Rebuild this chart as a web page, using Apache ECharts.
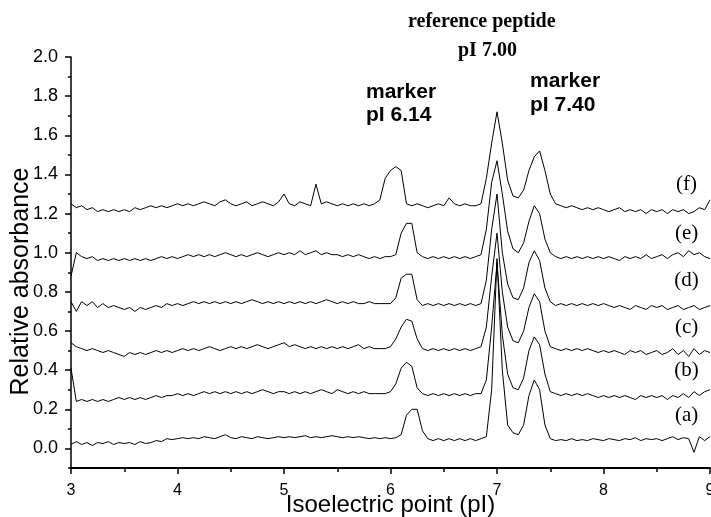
<!DOCTYPE html>
<html>
<head>
<meta charset="utf-8">
<title>IEF traces</title>
<script src="https://cdn.jsdelivr.net/npm/echarts@6.0.0/dist/echarts.min.js"></script>
<style>
  html, body { margin: 0; padding: 0; background: #fff; }
  #main { width: 711px; height: 517px; }
</style>
</head>
<body>
<div id="main"></div>
<script type="text/javascript">
// sample positions (pI)
var pI = [
  3.00, 3.05, 3.10, 3.15, 3.20, 3.25, 3.30, 3.35, 3.40, 3.45,
  3.50, 3.55, 3.60, 3.65, 3.70, 3.75, 3.80, 3.85, 3.90, 3.95,
  4.00, 4.05, 4.10, 4.15, 4.20, 4.25, 4.30, 4.35, 4.40, 4.45,
  4.50, 4.55, 4.60, 4.65, 4.70, 4.75, 4.80, 4.85, 4.90, 4.95,
  5.00, 5.05, 5.10, 5.15, 5.20, 5.25, 5.30, 5.35, 5.40, 5.45,
  5.50, 5.55, 5.60, 5.65, 5.70, 5.75, 5.80, 5.85, 5.90, 5.95,
  6.00, 6.05, 6.10, 6.15, 6.20, 6.25, 6.30, 6.35, 6.40, 6.45,
  6.50, 6.55, 6.60, 6.65, 6.70, 6.75, 6.80, 6.85, 6.90, 6.95,
  7.00, 7.05, 7.10, 7.15, 7.20, 7.25, 7.30, 7.35, 7.40, 7.45,
  7.50, 7.55, 7.60, 7.65, 7.70, 7.75, 7.80, 7.85, 7.90, 7.95,
  8.00, 8.05, 8.10, 8.15, 8.20, 8.25, 8.30, 8.35, 8.40, 8.45,
  8.50, 8.55, 8.60, 8.65, 8.70, 8.75, 8.80, 8.85, 8.90, 8.95, 9.00
];

// relative absorbance of each run (already offset in the figure)
var traceA = [
  0.02, 0.035, 0.02, 0.03, 0.015, 0.03, 0.025, 0.035, 0.02, 0.03,
  0.025, 0.03, 0.02, 0.035, 0.025, 0.03, 0.04, 0.035, 0.05, 0.045,
  0.05, 0.055, 0.05, 0.055, 0.05, 0.06, 0.055, 0.05, 0.06, 0.07,
  0.055, 0.05, 0.06, 0.055, 0.05, 0.06, 0.055, 0.05, 0.055, 0.06,
  0.055, 0.06, 0.055, 0.06, 0.065, 0.055, 0.06, 0.055, 0.06, 0.065,
  0.06, 0.055, 0.06, 0.055, 0.06, 0.055, 0.05, 0.055, 0.05, 0.055,
  0.05, 0.055, 0.07, 0.17, 0.20, 0.20, 0.09, 0.05, 0.04, 0.05,
  0.04, 0.05, 0.04, 0.05, 0.04, 0.05, 0.04, 0.05, 0.06, 0.30,
  0.97, 0.40, 0.12, 0.08, 0.07, 0.12, 0.27, 0.35, 0.30, 0.12,
  0.05, 0.04, 0.045, 0.04, 0.05, 0.04, 0.045, 0.04, 0.05, 0.045,
  0.04, 0.05, 0.045, 0.04, 0.05, 0.045, 0.055, 0.04, 0.05, 0.045,
  0.05, 0.04, 0.05, 0.06, 0.045, 0.055, 0.05, -0.02, 0.06, 0.04, 0.06
];
var traceB = [
  0.41, 0.24, 0.25, 0.24, 0.25, 0.24, 0.25, 0.24, 0.25, 0.26,
  0.25, 0.26, 0.25, 0.26, 0.25, 0.26, 0.27, 0.26, 0.27, 0.27,
  0.28, 0.27, 0.28, 0.27, 0.28, 0.29, 0.28, 0.29, 0.28, 0.29,
  0.28, 0.29, 0.28, 0.29, 0.28, 0.29, 0.30, 0.29, 0.28, 0.29,
  0.29, 0.28, 0.29, 0.28, 0.29, 0.28, 0.29, 0.30, 0.29, 0.28,
  0.30, 0.29, 0.28, 0.29, 0.28, 0.29, 0.28, 0.28, 0.28, 0.28,
  0.29, 0.33, 0.41, 0.44, 0.42, 0.31, 0.28, 0.27, 0.28, 0.27,
  0.28, 0.27, 0.28, 0.27, 0.28, 0.27, 0.28, 0.28, 0.35, 0.62,
  0.95, 0.58, 0.38, 0.31, 0.30, 0.36, 0.50, 0.57, 0.53, 0.38,
  0.29, 0.28, 0.27, 0.28, 0.27, 0.28, 0.27, 0.28, 0.27, 0.26,
  0.27, 0.26, 0.27, 0.26, 0.27, 0.26, 0.25, 0.27, 0.26, 0.27,
  0.26, 0.27, 0.25, 0.27, 0.26, 0.28, 0.26, 0.29, 0.27, 0.29, 0.30
];
var traceC = [
  0.54, 0.52, 0.51, 0.50, 0.51, 0.50, 0.49, 0.50, 0.49, 0.48,
  0.47, 0.49, 0.48, 0.49, 0.48, 0.49, 0.50, 0.49, 0.50, 0.49,
  0.50, 0.51, 0.50, 0.51, 0.50, 0.51, 0.52, 0.51, 0.50, 0.51,
  0.52, 0.51, 0.52, 0.51, 0.52, 0.53, 0.52, 0.51, 0.52, 0.53,
  0.54, 0.52, 0.53, 0.52, 0.51, 0.52, 0.51, 0.52, 0.51, 0.52,
  0.51, 0.52, 0.51, 0.52, 0.53, 0.51, 0.52, 0.51, 0.51, 0.51,
  0.52, 0.56, 0.62, 0.66, 0.65, 0.56, 0.51, 0.50, 0.51, 0.50,
  0.51, 0.50, 0.51, 0.50, 0.51, 0.50, 0.51, 0.52, 0.62, 0.88,
  1.10, 0.80, 0.62, 0.55, 0.54, 0.60, 0.72, 0.79, 0.75, 0.60,
  0.52, 0.51, 0.50, 0.51, 0.50, 0.51, 0.50, 0.51, 0.50, 0.49,
  0.50, 0.49, 0.50, 0.49, 0.48, 0.50, 0.49, 0.50, 0.48, 0.49,
  0.50, 0.48, 0.49, 0.51, 0.48, 0.50, 0.47, 0.51, 0.48, 0.50, 0.49
];
var traceD = [
  0.75, 0.70, 0.75, 0.73, 0.75, 0.72, 0.74, 0.72, 0.73, 0.72,
  0.71, 0.72, 0.70, 0.72, 0.71, 0.72, 0.73, 0.72, 0.74, 0.73,
  0.74, 0.73, 0.74, 0.75, 0.74, 0.75, 0.74, 0.75, 0.74, 0.75,
  0.74, 0.75, 0.74, 0.75, 0.76, 0.75, 0.74, 0.75, 0.74, 0.75,
  0.74, 0.75, 0.74, 0.75, 0.74, 0.75, 0.74, 0.75, 0.76, 0.75,
  0.74, 0.75, 0.74, 0.75, 0.74, 0.74, 0.75, 0.74, 0.74, 0.74,
  0.74, 0.77, 0.87, 0.89, 0.89, 0.76, 0.73, 0.74, 0.73, 0.74,
  0.73, 0.74, 0.73, 0.74, 0.73, 0.74, 0.73, 0.74, 0.86, 1.12,
  1.30, 1.00, 0.84, 0.77, 0.76, 0.82, 0.95, 1.01, 0.96, 0.82,
  0.75, 0.73, 0.74, 0.73, 0.74, 0.73, 0.74, 0.73, 0.74, 0.73,
  0.74, 0.73, 0.72, 0.73, 0.72, 0.71, 0.73, 0.72, 0.71, 0.73,
  0.72, 0.73, 0.71, 0.72, 0.73, 0.71, 0.72, 0.73, 0.71, 0.72, 0.73
];
var traceE = [
  0.88, 1.00, 0.98, 0.97, 0.98, 0.96, 0.97, 0.96, 0.97, 0.96,
  0.97, 0.96, 0.97, 0.96, 0.97, 0.96, 0.97, 0.98, 0.97, 0.98,
  0.97, 0.98, 0.99, 0.98, 0.99, 0.98, 0.99, 0.98, 0.99, 1.00,
  0.99, 0.98, 0.99, 0.98, 0.99, 1.00, 0.99, 0.98, 0.99, 1.00,
  0.99, 1.00, 0.99, 1.01, 0.99, 1.00, 1.01, 0.99, 1.00, 0.99,
  0.99, 0.98, 0.99, 0.98, 0.99, 0.98, 0.97, 0.98, 0.97, 0.98,
  0.98, 0.99, 1.10, 1.15, 1.15, 1.00, 0.98, 0.97, 0.98, 0.97,
  0.98, 0.97, 0.98, 0.97, 0.98, 0.97, 0.98, 0.99, 1.12, 1.36,
  1.47, 1.30, 1.11, 1.02, 1.00, 1.05, 1.16, 1.24, 1.20, 1.07,
  1.00, 0.98, 0.97, 0.98, 0.97, 0.98, 0.97, 0.98, 0.97, 0.98,
  0.97, 0.98, 0.97, 0.96, 0.98, 0.97, 0.98, 0.97, 0.99, 0.97,
  0.98, 0.99, 0.97, 0.99, 1.00, 0.98, 1.01, 0.99, 1.00, 0.98, 0.97
];
var traceF = [
  1.25, 1.23, 1.24, 1.22, 1.23, 1.21, 1.22, 1.21, 1.22, 1.21,
  1.22, 1.21, 1.23, 1.22, 1.23, 1.24, 1.23, 1.24, 1.23, 1.24,
  1.25, 1.24, 1.25, 1.24, 1.25, 1.26, 1.25, 1.24, 1.26, 1.27,
  1.25, 1.24, 1.25, 1.26, 1.24, 1.25, 1.26, 1.25, 1.24, 1.26,
  1.30, 1.25, 1.24, 1.26, 1.25, 1.24, 1.35, 1.25, 1.26, 1.25,
  1.24, 1.25, 1.24, 1.25, 1.24, 1.25, 1.24, 1.25, 1.27, 1.38,
  1.42, 1.44, 1.42, 1.25, 1.24, 1.25, 1.24, 1.23, 1.24, 1.25,
  1.24, 1.28, 1.25, 1.24, 1.25, 1.24, 1.24, 1.25, 1.38, 1.56,
  1.72, 1.56, 1.37, 1.29, 1.28, 1.32, 1.42, 1.49, 1.52, 1.42,
  1.30, 1.25, 1.24, 1.23, 1.24, 1.23, 1.22, 1.23, 1.22, 1.23,
  1.22, 1.21, 1.22, 1.23, 1.21, 1.22, 1.21, 1.22, 1.20, 1.22,
  1.21, 1.22, 1.20, 1.22, 1.21, 1.22, 1.20, 1.21, 1.23, 1.22, 1.27
];

var traces = [traceA, traceB, traceC, traceD, traceE, traceF];
var traceNames = ['(a)', '(b)', '(c)', '(d)', '(e)', '(f)'];
// where the run letters sit (pI, absorbance)
var labelX = 8.78;
var labelY = [0.17, 0.40, 0.62, 0.86, 1.10, 1.35];

var myChart = echarts.init(document.getElementById('main'));

var series = traces.map(function (t, k) {
    return {
        name: traceNames[k],
        type: 'line',
        xAxisIndex: 0,
        yAxisIndex: 0,
        showSymbol: false,
        symbol: 'none',
        lineStyle: { color: '#000', width: 1 },
        data: pI.map(function (x, i) { return [x, t[i]]; }),
        markPoint: {
            symbol: 'circle',
            symbolSize: 0,
            label: {
                show: true,
                position: 'inside',
                color: '#000',
                fontFamily: 'Liberation Serif',
                fontSize: 21,
                formatter: traceNames[k]
            },
            data: [{ coord: [labelX, labelY[k]] }]
        }
    };
});

// grid 0 holds the data (-0.1 .. 2.0), grid 1 only carries the labelled
// major ticks of the y axis (0.0 .. 2.0), lined up with grid 0
var plotTop = 57, plotBottom = 49, plotH = 517 - plotTop - plotBottom;
var zeroBottom = plotBottom + plotH * 0.1 / 2.1;

var option = {
    animation: false,
    backgroundColor: '#fff',
    grid: [
        { left: 71, right: 1, top: plotTop, bottom: plotBottom, outerBoundsMode: 'none', containLabel: false },
        { left: 71, right: 1, top: plotTop, bottom: zeroBottom, outerBoundsMode: 'none', containLabel: false }
    ],
    xAxis: [{
        type: 'value',
        gridIndex: 0,
        min: 3,
        max: 9,
        interval: 1,
        name: 'Isoelectric point (pI)',
        nameLocation: 'middle',
        nameGap: 25,
        nameMoveOverlap: false,
        nameTextStyle: { fontFamily: 'Liberation Sans', fontSize: 24, color: '#000' },
        axisLine: { show: true, onZero: false, lineStyle: { color: '#000', width: 2 } },
        axisTick: { show: true, inside: false, length: 6, lineStyle: { color: '#000', width: 1.5 } },
        minorTick: { show: true, splitNumber: 2, length: 4, lineStyle: { color: '#000', width: 1.5 } },
        axisLabel: { fontFamily: 'Liberation Sans', fontSize: 16, color: '#000', margin: 15 },
        splitLine: { show: false }
    }, {
        type: 'value',
        gridIndex: 1,
        min: 3,
        max: 9,
        show: false
    }],
    yAxis: [{
        type: 'value',
        gridIndex: 0,
        min: -0.1,
        max: 2.0,
        interval: 0.1,
        name: 'Relative absorbance',
        nameLocation: 'middle',
        nameGap: 37,
        nameTextStyle: { fontFamily: 'Liberation Sans', fontSize: 25, color: '#000', padding: [0, 38, 0, 0] },
        axisLine: { show: true, onZero: false, lineStyle: { color: '#000', width: 1.5 } },
        axisTick: { show: true, inside: false, length: 3, lineStyle: { color: '#000', width: 1.5 } },
        axisLabel: { show: false },
        splitLine: { show: false }
    }, {
        type: 'value',
        gridIndex: 1,
        min: 0,
        max: 2.0,
        interval: 0.2,
        axisLine: { show: false },
        axisTick: { show: true, inside: false, length: 6, lineStyle: { color: '#000', width: 1.5 } },
        axisLabel: {
            fontFamily: 'Liberation Sans',
            fontSize: 18,
            color: '#000',
            margin: 13,
            formatter: function (v) { return v.toFixed(1); }
        },
        splitLine: { show: false }
    }],
    graphic: [
        { type: 'text', left: 408, top: 12, style: { text: 'reference peptide', font: 'bold 20px "Liberation Serif"', fill: '#000' } },
        { type: 'text', left: 458, top: 41, style: { text: 'pI 7.00', font: 'bold 20px "Liberation Serif"', fill: '#000' } },
        { type: 'text', left: 366, top: 82, style: { text: 'marker', font: 'bold 21px "Liberation Sans"', fill: '#000' } },
        { type: 'text', left: 366, top: 105, style: { text: 'pI 6.14', font: 'bold 21px "Liberation Sans"', fill: '#000' } },
        { type: 'text', left: 530, top: 71, style: { text: 'marker', font: 'bold 21px "Liberation Sans"', fill: '#000' } },
        { type: 'text', left: 530, top: 95, style: { text: 'pI 7.40', font: 'bold 21px "Liberation Sans"', fill: '#000' } }
    ],
    series: series
};

myChart.setOption(option);
</script>
</body>
</html>
